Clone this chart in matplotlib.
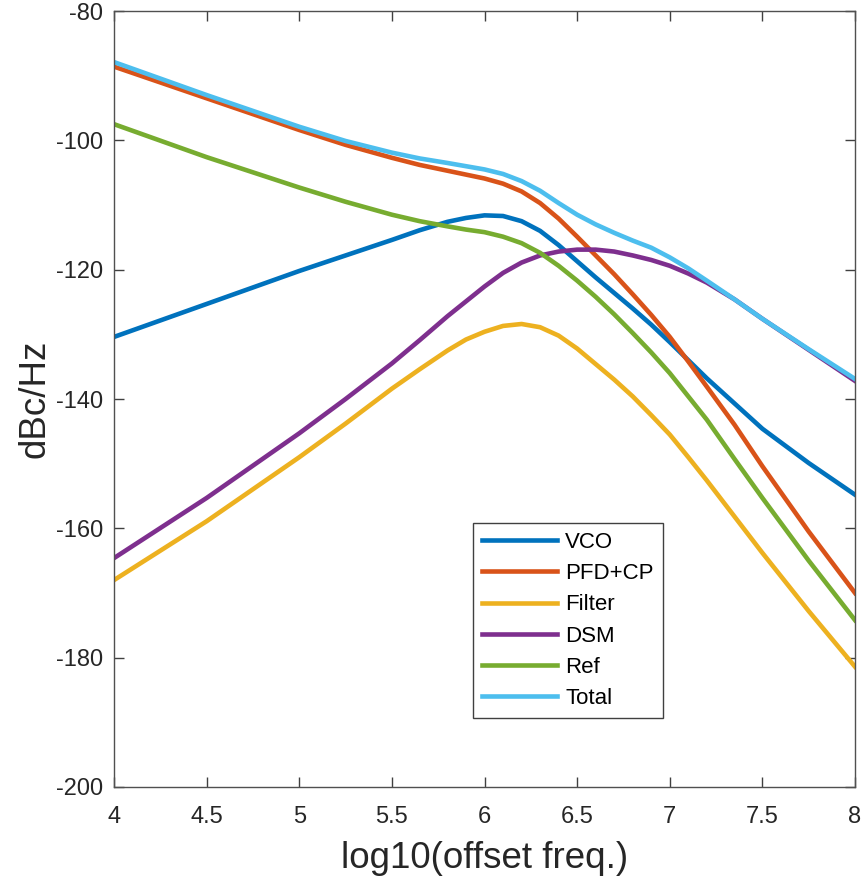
import matplotlib
matplotlib.use("Agg")
import matplotlib.pyplot as plt
import numpy as np

plt.rcParams['font.family'] = ['Liberation Sans', 'DejaVu Sans']
plt.rcParams['axes.unicode_minus'] = False  # plain hyphen like MATLAB

# log10 of offset frequency where the curves were read
offset = [4.0, 4.5, 5.0, 5.25, 5.5, 5.65, 5.8, 5.9, 6.0, 6.1, 6.2, 6.3, 6.4,
          6.5, 6.6, 6.7, 6.8, 6.9, 7.0, 7.1, 7.2, 7.35, 7.5, 7.75, 8.0]

# phase noise contributions in dBc/Hz
vco = [-130.4, -125.3, -120.2, -117.8, -115.4, -113.9, -112.6, -112.0, -111.6, -111.7, -112.5, -114.0, -116.2,
       -118.7, -121.2, -123.6, -126.0, -128.5, -131.2, -134.0, -136.8, -140.7, -144.6, -149.9, -154.8]
pfd_cp = [-88.6, -93.5, -98.4, -100.7, -102.7, -103.8, -104.7, -105.3, -105.9, -106.7, -107.9, -109.7, -112.1,
          -114.9, -117.8, -120.7, -123.8, -127.0, -130.4, -134.2, -138.1, -144.0, -150.4, -160.5, -170.0]
filt = [-168.0, -158.9, -149.0, -143.8, -138.4, -135.4, -132.5, -130.8, -129.6, -128.7, -128.4, -128.9, -130.2,
        -132.2, -134.6, -137.0, -139.6, -142.5, -145.5, -149.0, -152.6, -158.2, -163.8, -172.8, -181.4]
dsm = [-164.6, -155.3, -145.3, -140.0, -134.5, -130.9, -127.2, -124.9, -122.6, -120.5, -118.9, -117.8, -117.2,
       -116.9, -116.9, -117.2, -117.8, -118.5, -119.4, -120.6, -122.0, -124.6, -127.6, -132.4, -137.2]
ref = [-97.5, -102.6, -107.3, -109.5, -111.5, -112.5, -113.3, -113.8, -114.2, -114.9, -115.9, -117.4, -119.4,
       -121.7, -124.2, -126.9, -129.8, -132.8, -136.0, -139.6, -143.2, -149.3, -155.3, -165.0, -174.2]
total = [-87.9, -93.0, -97.9, -100.1, -101.9, -102.8, -103.5, -104.0, -104.5, -105.2, -106.3, -107.8, -109.7,
         -111.5, -113.0, -114.3, -115.5, -116.6, -118.1, -119.8, -121.7, -124.6, -127.6, -132.3, -136.9]

labels = ["VCO", "PFD+CP", "Filter", "DSM", "Ref", "Total"]
colors = ["#0072BD", "#D95319", "#EDB120", "#7E2F8E", "#77AC30", "#4DBEEE"]

fig = plt.figure(figsize=(8.64, 8.81), dpi=100)
ax = fig.add_axes([0.132, 0.1067, 0.8576, 0.8808])

for ys, lab, c in zip([vco, pfd_cp, filt, dsm, ref, total], labels, colors):
    ax.plot(offset, ys, color=c, linewidth=3.3, label=lab)

ax.set_xlim(4, 8)
ax.set_ylim(-200, -80)
ax.set_xticks(np.arange(4, 8.01, 0.5))
ax.set_xticklabels(["4", "4.5", "5", "5.5", "6", "6.5", "7", "7.5", "8"])
ax.set_yticks(np.arange(-200, -79, 20))
ax.tick_params(direction='in', length=7, width=1, top=True, right=True,
               labelsize=17, colors='#404040', labelcolor='#262626')
ax.tick_params(axis='x', pad=14)
ax.tick_params(axis='y', pad=8)
for s in ax.spines.values():
    s.set_color('#505050')
    s.set_linewidth(1)

ax.set_xlabel("log10(offset freq.)", fontsize=26.5, color='#262626', labelpad=9)
ax.set_ylabel("dBc/Hz", fontsize=26.5, color='#262626', labelpad=2)

leg = ax.legend(loc='upper left', bbox_to_anchor=(0.4845, 0.3402), fontsize=16,
                frameon=True, fancybox=False, edgecolor='#404040', framealpha=1,
                handlelength=3.4, handletextpad=0.35, labelspacing=0.46,
                borderpad=0.4, borderaxespad=0)
leg.get_frame().set_linewidth(1)

fig.savefig("out.png", dpi=100)
